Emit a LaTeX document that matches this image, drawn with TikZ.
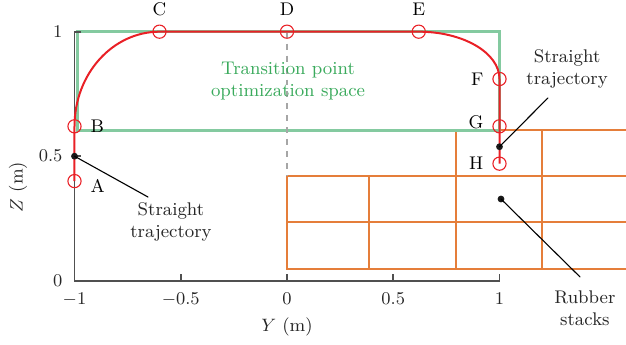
\documentclass[tikz,border=0pt]{standalone}
\usepackage{amsmath, amssymb}
\usepackage{tikz}
\usetikzlibrary{calc, positioning}
\usepackage{tkz-euclide}
\usepackage{xcolor}

\definecolor{trajred}{RGB}{233,32,38}
\definecolor{spacegreen}{RGB}{132,202,160}
\definecolor{textgreen}{RGB}{58,170,92}
\definecolor{stackorange}{RGB}{229,126,58}
\definecolor{axisgray}{RGB}{80,80,80}

\tikzset{
    ptmark/.style = {circle, draw=trajred, line width=0.55bp, minimum size=6.6bp, inner sep=0pt},
    dotmark/.style = {circle, fill=black!90, minimum size=3.4bp, inner sep=0pt},
    stackline/.style = {stackorange, line width=1bp},
    axisline/.style = {axisgray, line width=0.9bp},
    callout/.style = {align=center, text=black!85},
}

\begin{document}
\begin{tikzpicture}[x=106.25bp, y=124.5bp, font=\fontsize{9.2}{11}\selectfont]
            \clip (-1.3506,-0.2582) rectangle (1.5953,1.1273);
            \tkzDefPoints{-1/0/O, 1/0/X, -1/1/T, -1/0.4/A, -1/0.62/B, -0.6/1/C, 0/1/D, 0.62/1/E, 1/0.81/F, 1/0.62/G, 1/0.47/H, 0/0.42/K}
            \tkzDefPoints{-1/0.5/L, 1/0.538/R, 1.007/0.328/S, -0.654/0.336/L', 1.228/0.734/R', 1.379/0.015/S'}
            % rubber stacks
            \foreach \xa/\xb in {0/0.385, 0.385/0.793, 0.793/1.2, 1.2/1.7}
                \foreach \za/\zb in {0.048/0.237, 0.237/0.42}
                    \draw[stackline] (\xa,\za) rectangle (\xb,\zb);
            \foreach \xa/\xb in {0.793/1.2, 1.2/1.7}
                \draw[stackline] (\xa,0.42) rectangle (\xb,0.605);
            % optimization space
            \draw[spacegreen, line width=1.5bp] (-0.988,0.605) rectangle (1,1);
            % axes
            \draw[axisline] (T) -- (O) -- (X);
            \foreach \v/\t [count=\i] in {-1/$-1$, -0.5/$-0.5$, 0/$0$, 0.5/$0.5$, 1/$1$} {
                \draw[axisline] (\v,0) -- ++(0,3.5bp);
                \node[anchor=north, yshift=-2.5bp, text=black!85] (xt\i) at (\v,0) {\t};
            }
            \foreach \v/\t [count=\i] in {0/$0$, 0.5/$0.5$, 1/$1$} {
                \draw[axisline] (-1,\v) -- ++(3.5bp,0);
                \node[anchor=east, xshift=-2.5bp, text=black!85] (zt\i) at (-1,\v) {\t};
            }
            \node[text=black!85] (ylab) at (0,-0.186) {$Y$ (m)};
            \node[text=black!85, rotate=90] (zlab) at (-1.266,0.376) {$Z$ (m)};
            \draw[gray!70, dashed, line width=0.7bp] (D) -- (K);
            % trajectory
            \draw[trajred, line width=1bp] (A) -- (B)
                arc[start angle=180, end angle=90, x radius=0.4, y radius=0.38] -- (E)
                arc[start angle=90, end angle=0, x radius=0.38, y radius=0.19] -- (H);
            \foreach \p in {A,B,C,D,E,F,G,H}
                \node[ptmark] (m\p) at (\p) {};
            \node[right=1bp of mA, yshift=-2.5bp] (lA) {A};
            \node[right=1bp of mB] (lB) {B};
            \node[above=1bp of mC] (lC) {C};
            \node[above=1bp of mD] (lD) {D};
            \node[above=1bp of mE] (lE) {E};
            \node[left=1bp of mF] (lF) {F};
            \node[left=1bp of mG, yshift=2bp] (lG) {G};
            \node[left=1bp of mH] (lH) {H};
            % callouts
            \node[dotmark] (dL) at (L) {};
            \node[dotmark] (dR) at (R) {};
            \node[dotmark] (dS) at (S) {};
            \node[callout] (stL) at (-0.546,0.236) {Straight\\trajectory};
            \node[callout] (stR) at (1.318,0.850) {Straight\\trajectory};
            \node[callout] (rub) at (1.402,-0.110) {Rubber\\stacks};
            \node[align=center, text=textgreen] (space) at (0.005,0.80) {Transition point\\optimization space};
            \tkzDrawSegments[black, line width=0.55bp](dL,L' dR,R' dS,S')
        \end{tikzpicture}
\end{document}
